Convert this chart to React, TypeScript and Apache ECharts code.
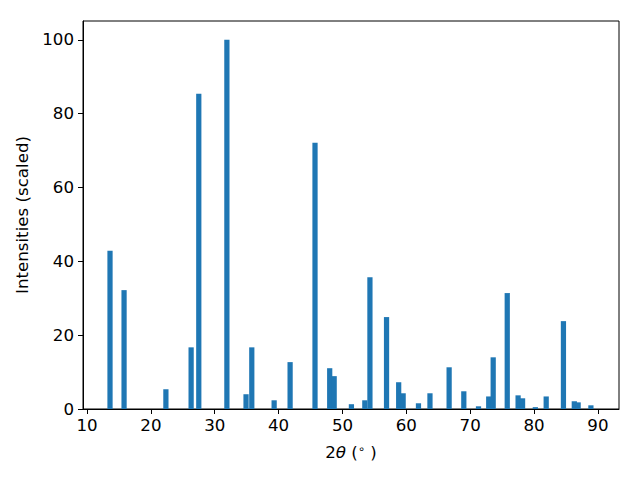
import React, { useEffect, useRef } from "react";
import * as echarts from "echarts";

const positions = [13.6, 15.8, 22.35, 26.3, 27.5, 31.9, 34.9, 35.8, 39.3, 41.8, 45.7, 48.0, 48.7, 51.4, 53.5, 54.3, 56.9, 58.8, 59.5, 61.9, 63.7, 66.7, 69.0, 71.3, 72.9, 73.6, 75.8, 77.5, 78.2, 80.2, 81.9, 84.6, 86.3, 86.9, 88.9];
const intensities = [42.9, 32.2, 5.35, 16.7, 85.4, 100, 4.0, 16.7, 2.36, 12.7, 72.1, 11.05, 8.9, 1.3, 2.36, 35.7, 24.9, 7.25, 4.26, 1.55, 4.26, 11.3, 4.8, 0.73, 3.4, 14.0, 31.4, 3.7, 2.9, 0.5, 3.4, 23.8, 2.1, 1.8, 1.0];
const xTicks = [10, 20, 30, 40, 50, 60, 70, 80, 90];
const yTicks = [0, 20, 40, 60, 80, 100];

const BAR_WIDTH = 0.82;
const FONT = "DejaVu Sans";
const FS = 16.67;

export default function App() {
  const ref = useRef<HTMLDivElement>(null);
  useEffect(() => {
    if (!ref.current) return;
    const chart = echarts.init(ref.current, null, { renderer: "svg" });
    const data = positions.map((p, i) => [p, intensities[i]]);
    chart.setOption({
      animation: false,
      backgroundColor: "#ffffff",
      grid: {
        left: 83,
        right: 21,
        top: 21,
        bottom: 71,
        show: true,
        borderColor: "#000000",
        borderWidth: 1,
        backgroundColor: "transparent",
      },
      xAxis: {
        type: "value",
        min: 9.37,
        max: 93.3,
        name: "{n|2}{i|θ}{n| (}{s|∘}{n| )}",
        nameLocation: "middle",
        nameGap: 34,
        nameTextStyle: {
          rich: {
            n: { fontFamily: FONT, fontSize: FS, color: "#000" },
            i: { fontFamily: FONT, fontSize: FS, fontStyle: "italic", color: "#000" },
            s: { fontFamily: FONT, fontSize: 11.5, color: "#000", verticalAlign: "top", padding: [0, 0, 7, 0] },
          },
        },
        axisLine: { show: true, onZero: false, lineStyle: { color: "#000", width: 1 } },
        axisTick: { show: true, length: 5, customValues: xTicks, lineStyle: { color: "#000" } },
        axisLabel: { customValues: xTicks, margin: 8, fontFamily: FONT, fontSize: FS, color: "#000" },
        splitLine: { show: false },
      },
      yAxis: {
        type: "value",
        min: 0,
        max: 105.1,
        name: "Intensities (scaled)",
        nameLocation: "middle",
        nameGap: 48,
        nameTextStyle: { fontFamily: FONT, fontSize: FS, color: "#000" },
        axisLine: { show: true, lineStyle: { color: "#000", width: 1 } },
        axisTick: { show: true, length: 5, customValues: yTicks, lineStyle: { color: "#000" } },
        axisLabel: { customValues: yTicks, margin: 9, fontFamily: FONT, fontSize: FS, color: "#000" },
        splitLine: { show: false },
      },
      series: [
        {
          type: "custom",
          data,
          clip: true,
          renderItem: (params: any, api: any) => {
            const x = api.value(0);
            const y = api.value(1);
            const p0 = api.coord([x - BAR_WIDTH / 2, y]);
            const p1 = api.coord([x + BAR_WIDTH / 2, 0]);
            return {
              type: "rect",
              shape: { x: p0[0], y: p0[1], width: p1[0] - p0[0], height: p1[1] - p0[1] },
              style: { fill: "#1f77b4" },
            };
          },
        },
      ],
    });
    return () => chart.dispose();
  }, []);
  return <div ref={ref} style={{ position: "fixed", left: 0, top: 0, width: 640, height: 480 }} />;
}
